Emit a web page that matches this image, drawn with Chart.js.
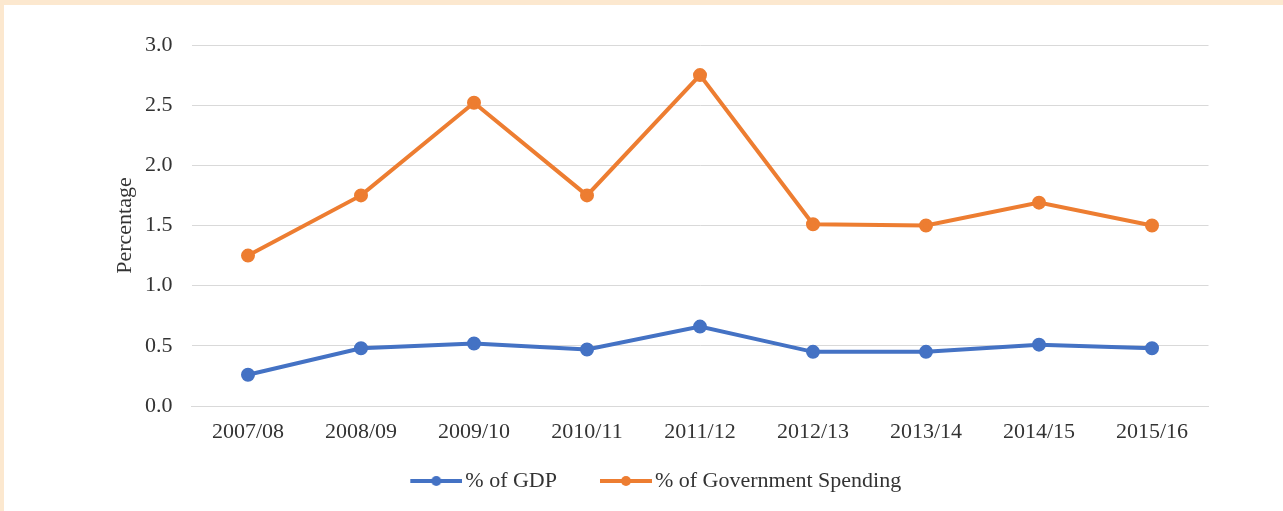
<!DOCTYPE html>
<html>
<head>
<meta charset="utf-8">
<script src="https://cdn.jsdelivr.net/npm/chart.js@4"></script>
<style>
  html, body { margin:0; padding:0; background:#fce8cf; }
  #wrap { position:absolute; left:4px; top:5px; width:1279px; height:506px; background:#fff; }
</style>
</head>
<body>
<div id="wrap"><canvas id="chart"></canvas></div>
<script>
const years = ['2007/08','2008/09','2009/10','2010/11','2011/12','2012/13','2013/14','2014/15','2015/16'];
const gdpShare   = [0.26, 0.48, 0.52, 0.47, 0.66, 0.45, 0.45, 0.51, 0.48];
const spendShare = [1.25, 1.75, 2.52, 1.75, 2.75, 1.51, 1.50, 1.69, 1.50];
const yTicks = [0, 0.5, 1.0, 1.5, 2.0, 2.5, 3.0];

const BLUE = '#4472c4', ORANGE = '#ed7d31', TEXT = '#333';
const FONT = "'Liberation Serif', 'Times New Roman', serif";

// legend marker: line with a dot, transparent room on the left
function marker(color){
  const c = document.createElement('canvas');
  c.width = 95; c.height = 14;
  const g = c.getContext('2d');
  g.strokeStyle = color; g.lineWidth = 4;
  g.beginPath(); g.moveTo(43, 7); g.lineTo(95, 7); g.stroke();
  g.fillStyle = color;
  g.beginPath(); g.arc(69, 7, 5, 0, Math.PI*2); g.fill();
  return c;
}
const markers = [marker(BLUE), marker(ORANGE)];

const ctx = document.getElementById('chart').getContext('2d');
new Chart(ctx, {
  type:'line',
  data:{
    labels: years,
    datasets:[
      {label:'% of GDP', data:gdpShare, borderColor:BLUE, backgroundColor:BLUE,
       borderWidth:4, pointRadius:5, pointHoverRadius:5, tension:0},
      {label:'% of Government Spending', data:spendShare, borderColor:ORANGE, backgroundColor:ORANGE,
       borderWidth:4, pointRadius:5, pointHoverRadius:5, tension:0}
    ]
  },
  options:{
    responsive:true, maintainAspectRatio:false, animation:false,
    layout:{padding:{left:64, right:74.5, top:40, bottom:9}},
    font:{family:FONT},
    plugins:{
      tooltip:{enabled:false},
      legend:{
        position:'bottom',
        labels:{
          usePointStyle:true, pointStyleWidth:79, padding:8,
          color:TEXT, font:{family:FONT, size:22},
          generateLabels(chart){
            const items = Chart.defaults.plugins.legend.labels.generateLabels(chart);
            items.forEach((it,i)=>{ it.pointStyle = markers[i]; });
            return items;
          }
        }
      }
    },
    scales:{
      x:{
        offset:true,
        grid:{display:false, drawTicks:false},
        border:{color:'#d9d9d9', width:1},
        ticks:{color:TEXT, font:{family:FONT, size:22}, padding:13, maxRotation:0},
        afterFit(s){ s.height = 56; }
      },
      y:{
        min:0, max:3,
        afterBuildTicks(s){ s.ticks = yTicks.map(v=>({value:v})); },
        grid:{color:'#d9d9d9', lineWidth:1, drawTicks:false},
        border:{display:false},
        ticks:{color:TEXT, font:{family:FONT, size:22}, padding:19, callback:v=>v.toFixed(1)},
        title:{display:true, text:'Percentage', color:TEXT, font:{family:FONT, size:22}, padding:{top:44, bottom:4}},
        afterFit(s){ s.width = 123.5; }
      }
    }
  }
});
</script>
</body>
</html>
